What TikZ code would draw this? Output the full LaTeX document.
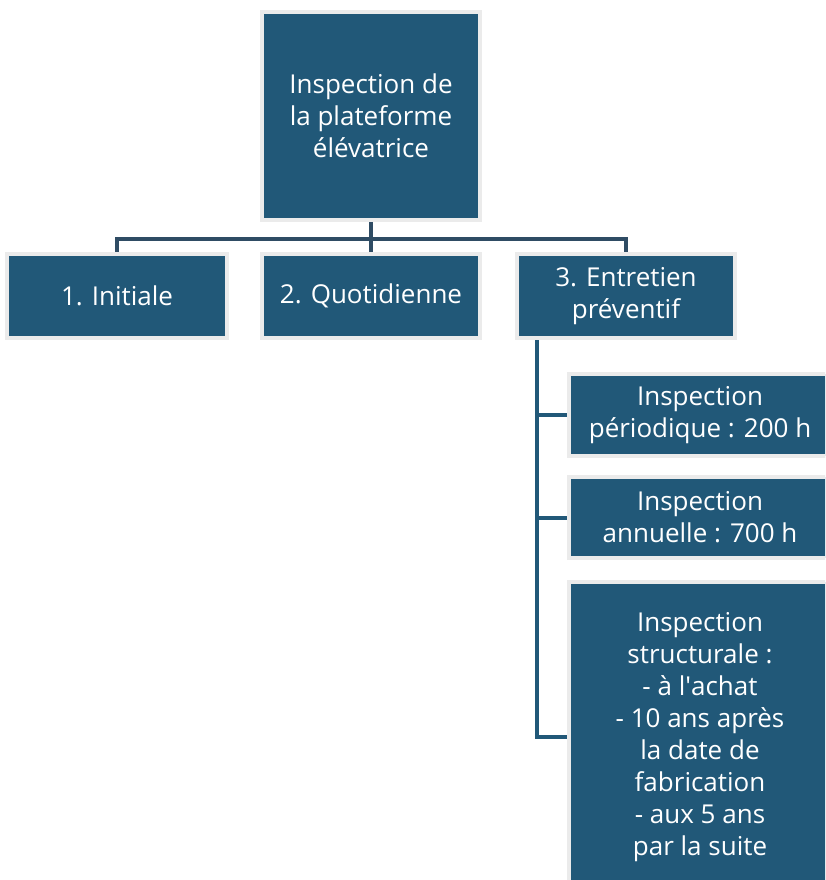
\documentclass[tikz,border=0pt]{standalone}
\usepackage{fontspec}
\setmainfont{Open Sans}
\usetikzlibrary{positioning,backgrounds}
\definecolor{boxblue}{HTML}{215878}
\definecolor{edge}{HTML}{EBEBEB}
\definecolor{wire}{HTML}{2F4C64}
\colorlet{wire2}{boxblue}

\begin{document}
\begin{tikzpicture}[x=1pt,y=-1pt,
    box/.style={draw=edge,line width=4pt,fill=boxblue,text=white,align=center,
      font=\fontsize{26}{32}\selectfont,inner sep=0pt},
    conn/.style={wire,line width=4pt}]
  \clip (0,0) rectangle (825,880);
  \node[box,minimum width=218,minimum height=208] (root) at (371,116)
    {Inspection de\\la plateforme\\élévatrice};
  \node[box,minimum width=220,minimum height=84] (init) at (117,296) {1. Initiale};
  \node[box,minimum width=218,minimum height=84] (quot) at (371,296) {2. Quotidienne};
  \node[box,minimum width=218,minimum height=84] (entr) at (626,296) {3. Entretien\\préventif};
  \node[box,minimum width=262,minimum height=82] (peri) at (700,415)
    {Inspection\\périodique : 200 h};
  \node[box,minimum width=262,minimum height=81] (annu) at (700,517.5)
    {Inspection\\annuelle : 700 h};
  \node[box,minimum width=262,minimum height=310] (stru) at (700,737)
    {Inspection\\structurale :\\- à l\textquotesingle achat\\- 10 ans après\\la date de\\fabrication\\- aux 5 ans\\par la suite};
  \begin{scope}[on background layer]
    \draw[conn] (root.south) -- (quot.north);
    \draw[conn] (root.south) -- ++(0,17) -| (init.north);
    \draw[conn] (root.south) -- ++(0,17) -| (entr.north);
    \draw[conn,wire2] ([xshift=22pt]entr.south west) |- (peri.west);
    \draw[conn,wire2] ([xshift=22pt]entr.south west) |- (annu.west);
    \draw[conn,wire2] ([xshift=22pt]entr.south west) |- (stru.west);
  \end{scope}
\end{tikzpicture}
\end{document}
